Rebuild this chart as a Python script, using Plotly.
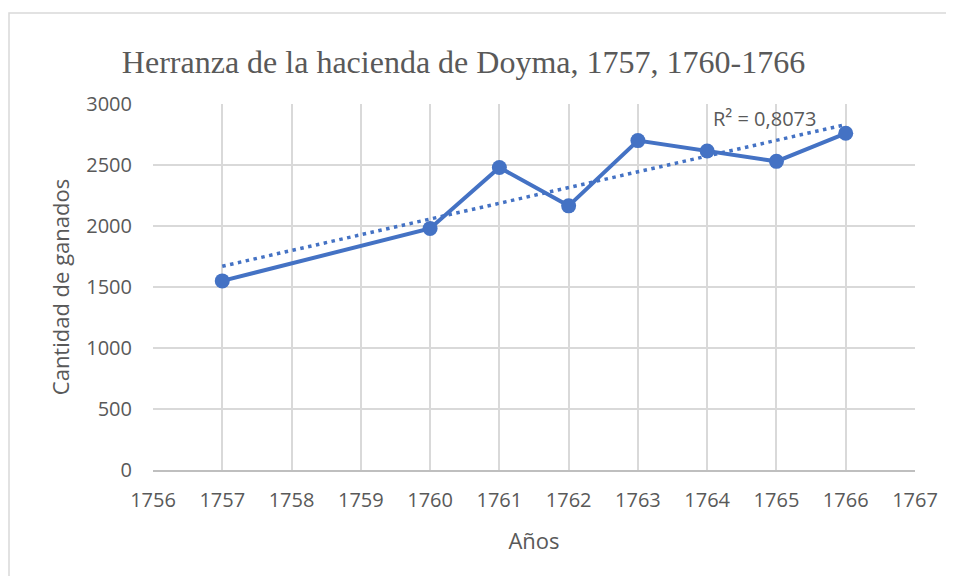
import numpy as np
import plotly.graph_objects as go

years = [1757, 1760, 1761, 1762, 1763, 1764, 1765, 1766]
cattle = [1550, 1980, 2480, 2165, 2700, 2615, 2530, 2760]
x_ticks = list(range(1756, 1768))
y_ticks = [0, 500, 1000, 1500, 2000, 2500, 3000]
r2_label = "R² = 0,8073"
title_text = "Herranza de la hacienda de Doyma, 1757, 1760-1766"

color = "#4472C4"
OFF = 8  # page body margin
W, H = 954 - OFF, 584 - 2 * OFF
L, R, T, B = 153 - OFF, 915 - OFF, 104 - OFF, 470 - OFF

slope, intercept = np.polyfit(years, cattle, 1)
trend_x = [min(years), max(years)]
trend_y = [slope * v + intercept for v in trend_x]

fig = go.Figure()
fig.add_trace(go.Scatter(x=trend_x, y=trend_y, mode="lines",
                         line=dict(color=color, width=3.5, dash="3.5px,4.5px"),
                         hoverinfo="skip", showlegend=False))
fig.add_trace(go.Scatter(x=years, y=cattle, mode="lines+markers",
                         line=dict(color=color, width=4),
                         marker=dict(color=color, size=15),
                         showlegend=False))

def px_x(p):
    return (p - OFF - L) / (R - L)

def px_y(p):
    return (B - (p - OFF)) / (B - T)

fig.add_shape(type="rect", xref="paper", yref="paper",
              x0=px_x(9), x1=px_x(990), y0=px_y(640), y1=px_y(13),
              line=dict(color="#d9d9d9", width=1.5), layer="below")

fig.add_annotation(x=1764.05, y=2880, xref="x", yref="y", text=r2_label,
                   showarrow=False, xanchor="left", yanchor="middle",
                   font=dict(family="Open Sans", size=20, color="#595959"))

fig.update_layout(
    width=W, height=H,
    margin=dict(l=L, r=W - R, t=T, b=H - B),
    paper_bgcolor="white", plot_bgcolor="white",
    title=dict(text=title_text, x=((122 + 805) / 2 - OFF) / W, xanchor="center",
               y=1 - (62 - OFF) / H, yanchor="middle",
               font=dict(family="Liberation Serif", size=32, color="#595959")),
    font=dict(family="Open Sans", color="#595959"),
)
fig.update_xaxes(range=[1756, 1767], tickvals=x_ticks, ticktext=[str(v) for v in x_ticks],
                 showgrid=True, gridcolor="#d9d9d9", gridwidth=1.5,
                 showline=True, linecolor="#bfbfbf", linewidth=1.5,
                 zeroline=False, ticks="", ticklabelstandoff=11,
                 tickfont=dict(family="Open Sans", size=20, color="#595959"),
                 title=dict(text="Años", standoff=22,
                            font=dict(family="Open Sans", size=22, color="#595959")))
fig.update_yaxes(range=[0, 3000], tickvals=y_ticks,
                 showgrid=True, gridcolor="#d9d9d9", gridwidth=1.5,
                 showline=False, zeroline=False, ticks="", ticklabelstandoff=20,
                 tickfont=dict(family="Open Sans", size=20, color="#595959"),
                 title=dict(text="Cantidad de ganados", standoff=10,
                            font=dict(family="Open Sans", size=22, color="#595959")))

fig.write_html("out.html")
